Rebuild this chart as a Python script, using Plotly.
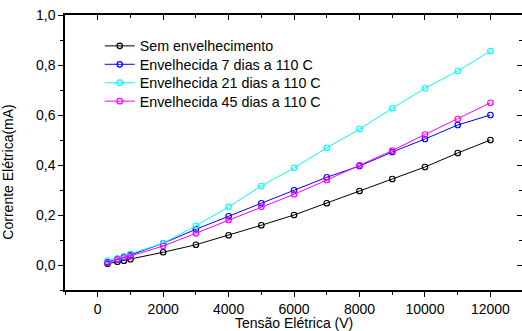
import plotly.graph_objects as go

# Applied voltage (V)
tensao = [300, 600, 800, 1000, 2000, 3000, 4000, 5000, 6000, 7000, 8000, 9000, 10000, 11000, 12000]

# Leakage current (mA) for each ageing condition
sem_envelhecimento = [0.005, 0.013, 0.017, 0.023, 0.051, 0.081, 0.119, 0.159, 0.200, 0.247, 0.296, 0.344, 0.392, 0.448, 0.500]
env_7_dias = [0.012, 0.022, 0.030, 0.040, 0.087, 0.143, 0.195, 0.247, 0.299, 0.351, 0.396, 0.452, 0.504, 0.560, 0.600]
env_21_dias = [0.018, 0.027, 0.036, 0.045, 0.087, 0.157, 0.233, 0.316, 0.389, 0.469, 0.544, 0.627, 0.707, 0.776, 0.856]
env_45_dias = [0.009, 0.023, 0.031, 0.036, 0.076, 0.127, 0.180, 0.233, 0.283, 0.340, 0.399, 0.458, 0.522, 0.584, 0.649]

series = [
    ("Sem envelhecimento", sem_envelhecimento, "#000000"),
    ("Envelhecida 7 dias a 110 C", env_7_dias, "#0000ff"),
    ("Envelhecida 21 dias a 110 C", env_21_dias, "#00ffff"),
    ("Envelhecida 45 dias a 110 C", env_45_dias, "#ff00ff"),
]

FONT = "Liberation Sans, Arial, sans-serif"
X_RANGE = [-1000, 12965]
Y_RANGE = [-0.1, 1.0]

# One legend per series so the rows can be spaced tightly
LEGEND_IDS = ["legend", "legend2", "legend3", "legend4"]
LEGEND_Y = [0.887, 0.820, 0.753, 0.686]

fig = go.Figure()
for (nome, valores, cor), lid in zip(series, LEGEND_IDS):
    fig.add_trace(go.Scatter(
        x=tensao, y=valores, name=nome, mode="lines+markers",
        line=dict(color=cor, width=1),
        marker=dict(symbol="circle-open", size=5.5, color=cor, line=dict(width=1.2, color=cor)),
        hoverinfo="skip", legend=lid,
    ))

# Overlay axes carrying the inward ticks on the top and right frame edges
fig.add_trace(go.Scatter(x=[None], y=[None], xaxis="x2", yaxis="y2",
                         showlegend=False, hoverinfo="skip"))

legend_style = dict(
    xanchor="left", yanchor="middle",
    bgcolor="rgba(0,0,0,0)", borderwidth=0,
    font=dict(family=FONT, size=14.3, color="black"),
    itemwidth=30, tracegroupgap=0,
)
legends = {lid: dict(x=0.076, y=ly, **legend_style) for lid, ly in zip(LEGEND_IDS, LEGEND_Y)}

fig.update_layout(
    width=522, height=331,
    margin=dict(l=65, r=0, t=15, b=41),
    paper_bgcolor="white", plot_bgcolor="white",
    separators=",.",
    font=dict(family=FONT, size=14, color="black"),
    showlegend=True,
    **legends,
    xaxis=dict(
        range=X_RANGE, showgrid=False, zeroline=False,
        showline=True, linecolor="black", linewidth=1.5,
        tickmode="linear", tick0=0, dtick=2000,
        ticks="outside", ticklen=5, tickwidth=1, tickcolor="black",
        tickformat="d",
        minor=dict(dtick=1000, tick0=0, ticks="outside", ticklen=3, tickcolor="black"),
        tickfont=dict(family=FONT, size=14),
    ),
    yaxis=dict(
        range=Y_RANGE, showgrid=False, zeroline=False,
        showline=True, linecolor="black", linewidth=1.5,
        tickmode="linear", tick0=0, dtick=0.2,
        ticks="outside", ticklen=5, tickwidth=1, tickcolor="black",
        tickformat=".1f",
        minor=dict(dtick=0.1, tick0=0, ticks="outside", ticklen=3, tickcolor="black"),
        tickfont=dict(family=FONT, size=14),
    ),
    xaxis2=dict(
        overlaying="x", side="top", anchor="y2", range=X_RANGE,
        showgrid=False, zeroline=False, showticklabels=False,
        showline=True, linecolor="black", linewidth=1.5,
        tickmode="linear", tick0=0, dtick=2000,
        ticks="inside", ticklen=5, tickcolor="black",
        minor=dict(dtick=1000, tick0=0, ticks="inside", ticklen=3, tickcolor="black"),
    ),
    yaxis2=dict(
        overlaying="y", side="right", anchor="x2", range=Y_RANGE,
        showgrid=False, zeroline=False, showticklabels=False, showline=False,
        tickmode="linear", tick0=0, dtick=0.2,
        ticks="inside", ticklen=5, tickcolor="black",
        minor=dict(dtick=0.1, tick0=0, ticks="inside", ticklen=3, tickcolor="black"),
    ),
    annotations=[
        dict(text="Tensão Elétrica (V)", xref="paper", yref="paper",
             x=0.5, y=-0.085, xanchor="center", yanchor="top", showarrow=False,
             font=dict(family=FONT, size=14)),
        dict(text="Corrente Elétrica(mA)", xref="paper", yref="paper",
             x=-0.125, y=0.43, xanchor="center", yanchor="middle", showarrow=False,
             textangle=-90, font=dict(family=FONT, size=14)),
    ],
)

fig.write_html("out.html")
